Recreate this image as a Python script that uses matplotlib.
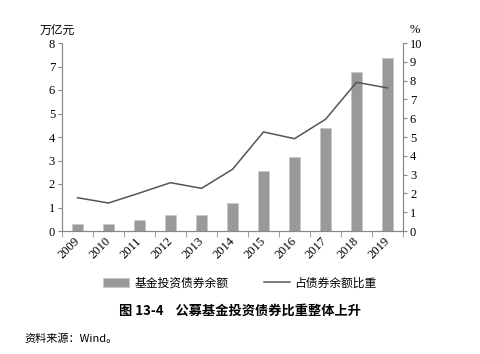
import matplotlib.pyplot as plt
import numpy as np

# 公募基金投资债券余额及占比
years = ['2009', '2010', '2011', '2012', '2013', '2014', '2015', '2016', '2017', '2018', '2019']
bond_amount = [0.28, 0.31, 0.45, 0.67, 0.68, 1.20, 2.57, 3.15, 4.40, 6.78, 7.37]   # 万亿元
bond_share = [1.77, 1.49, 2.02, 2.57, 2.27, 3.28, 5.27, 4.91, 5.94, 7.91, 7.61]    # %

serif = ['Liberation Serif', 'Noto Sans CJK SC']
cjk = ['Noto Sans CJK SC', 'DejaVu Sans']
plt.rcParams['font.family'] = serif

fig = plt.figure(figsize=(4.8, 3.54), dpi=100)
ax = fig.add_axes([62 / 480, 1 - 231 / 354, 341 / 480, 188 / 354])
ax2 = ax.twinx()

x = np.arange(len(years))
bars = ax.bar(x, bond_amount, width=0.37, color='#999999', edgecolor='#c8c8c8',
              linewidth=0.6, label='基金投资债券余额', zorder=2)
line, = ax2.plot(x, bond_share, color='#555555', linewidth=1.1, label='占债券余额比重')

ax.set_xlim(-0.5, len(years) - 0.5)
ax.set_ylim(0, 8)
ax2.set_ylim(0, 10)
ax.set_yticks(range(0, 9))
ax2.set_yticks(range(0, 11))

ax.set_xticks(x)
ax.set_xticklabels(years, rotation=45, fontsize=9)
ax.tick_params(axis='x', length=0, pad=6)
ax.set_xticks(np.arange(-0.5, len(years), 1), minor=True)
ax.tick_params(axis='x', which='minor', length=4, color='#888888', direction='out')
for lab in ax.get_xticklabels():
    lab.set_rotation_mode('anchor')
    lab.set_ha('right')
    lab.set_va('center')

ax.tick_params(axis='y', labelsize=9, length=3, color='#888888', pad=2)
ax2.tick_params(axis='y', labelsize=9, length=3, color='#888888', pad=2)

for a in (ax, ax2):
    a.spines['top'].set_visible(False)
    a.spines['left'].set_color('#888888')
    a.spines['right'].set_color('#888888')
    a.spines['bottom'].set_color('#888888')

fig.text(40 / 480, 1 - 30 / 354, '万亿元', family=cjk, fontsize=8.5, va='center', ha='left')
fig.text(410 / 480, 1 - 30 / 354, '%', fontsize=9, va='center', ha='left')

fig.legend([bars, line], ['基金投资债券余额', '占债券余额比重'], loc='center',
           bbox_to_anchor=(240 / 480, 1 - 283 / 354), ncol=2, frameon=False,
           prop={'family': cjk, 'size': 8.5}, handlelength=2.2, columnspacing=3,
           handletextpad=0.4)

fig.text(240 / 480, 1 - 311 / 354, '图 13-4    公募基金投资债券比重整体上升', family=cjk,
         fontsize=9.5, fontweight='bold', ha='center', va='center')
fig.text(24 / 480, 1 - 339 / 354, '资料来源：Wind。', family=cjk, fontsize=8,
         ha='left', va='center')

fig.savefig('out.png', dpi=100)
